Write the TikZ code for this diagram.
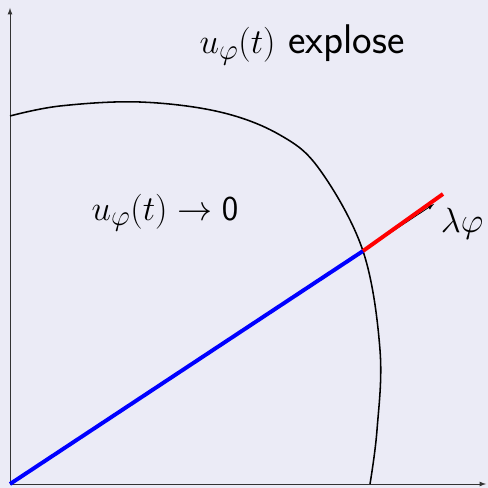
\documentclass[tikz,border=0pt]{standalone}
\usepackage{amsmath}
\definecolor{slidebg}{RGB}{235,235,246}
\tikzset{
  axis/.style={->,line width=0.6pt,black!80},
  ray/.style={line width=2.8pt},
  lbl/.style={font=\fontsize{29.5}{34}\selectfont}
}
\begin{document}
\begin{tikzpicture}[>=latex]
  % background, fixes the margins
  \fill[slidebg] (-0.25,-0.1) rectangle (11.95,12.1);
  \useasboundingbox (-0.25,-0.1) rectangle (11.95,12.1);
  % axes
  \coordinate (O) at (0,0);
  \coordinate (ytop) at (0,11.9);
  \coordinate (xend) at (11.9,0);
  \draw[axis] (O) -- (ytop);
  \draw[axis] (O) -- (xend);
  % boundary of the basin
  \coordinate (hit) at (8.825,5.825);
  \draw[line width=1.1pt] plot[smooth,tension=0.6] coordinates
    {(0,9.2) (1.25,9.45) (3.25,9.55) (5.25,9.3) (6.75,8.725) (7.75,7.85)
     (8.825,5.825) (9.25,3.35) (9.175,1.35) (9.0,0)};
  % the ray lambda phi
  \coordinate (tip) at (10.6,7.0);
  \coordinate (rend) at (10.825,7.25);
  \draw[->,line width=0.6pt] (O) -- (tip);
  \draw[ray,blue] (O) -- (hit);
  \draw[ray,red] (hit) -- (rend);
  % labels
  \node[lbl] (expl) at (7.3,10.975) {$u_\varphi(t)$ \textsf{explose}};
  \node[lbl] (zero) at (3.875,6.775) {$u_\varphi(t) \to \mathsf{0}$};
  \node[lbl] (lam) at (11.3,6.5) {$\lambda\varphi$};
\end{tikzpicture}
\end{document}
